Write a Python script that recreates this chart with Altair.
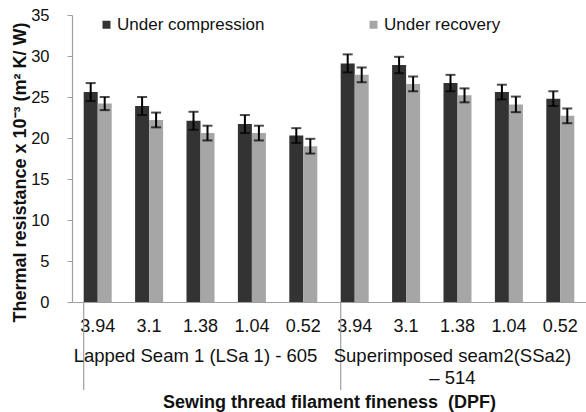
import altair as alt
import pandas as pd

# ---- data ----
seams = ["LSa1"] * 5 + ["SSa2"] * 5
dpf = ["3.94", "3.1", "1.38", "1.04", "0.52", "3.94", "3.1", "1.38", "1.04", "0.52"]
compression = [25.6, 23.9, 22.1, 21.7, 20.3, 29.1, 28.9, 26.7, 25.6, 24.8]
recovery = [24.2, 22.2, 20.6, 20.6, 19.0, 27.7, 26.6, 25.2, 24.1, 22.7]
comp_err = [1.1, 1.1, 1.1, 1.1, 0.9, 1.1, 1.0, 1.0, 0.9, 0.9]
rec_err = [0.8, 0.9, 0.9, 0.9, 0.9, 0.9, 0.9, 0.85, 0.95, 0.9]
series_names = ["Under compression", "Under recovery"]
group_labels = ["Lapped Seam 1 (LSa 1) - 605", "Superimposed seam2(SSa2)\n\u2013 514"]
group_mid_keys = ["LSa1|1.38", "SSa2|1.38"]
separator_keys = ["LSa1|3.94", "SSa2|3.94"]

keys = [f"{s}|{d}" for s, d in zip(seams, dpf)]
rows = []
for i, k in enumerate(keys):
    for name, vals, errs in ((series_names[0], compression, comp_err),
                             (series_names[1], recovery, rec_err)):
        rows.append({"key": k, "series": name, "value": vals[i],
                     "lo": vals[i] - errs[i], "hi": vals[i] + errs[i]})
df = pd.DataFrame(rows)

FONT = "Liberation Sans"
W, H = 514, 287

xscale = alt.Scale(paddingInner=0.455, paddingOuter=0.2275)
xaxis = alt.Axis(
    title="Sewing thread filament fineness\u00a0\u00a0(DPF)",
    labelExpr="split(datum.value, '|')[1]",
    labelAngle=0, labelFontSize=18, labelFont=FONT, labelColor="#111111",
    labelBaseline="alphabetic", labelPadding=29, ticks=False, tickSize=0,
    domainColor="#a0a0a0", domainWidth=1.2,
    titleFont=FONT, titleFontSize=18, titleFontWeight="bold", titleColor="#111111",
    titleBaseline="alphabetic", titleY=105, titleX=W / 2,
)
X = alt.X("key:N", sort=keys, scale=xscale, axis=xaxis)
XO = alt.XOffset("series:N", sort=series_names,
                 scale=alt.Scale(paddingInner=0, paddingOuter=0))

yaxis = alt.Axis(
    title="Thermal resistance x 10\u207b\u00b3 (m\u00b2 K/ W)",
    values=[0, 5, 10, 15, 20, 25, 30, 35], grid=False,
    labelFontSize=16.5, labelFont=FONT, labelColor="#111111", labelPadding=18,
    tickSize=5, tickColor="#a0a0a0", domainColor="#a0a0a0", domainWidth=1.2,
    titleFont=FONT, titleFontSize=18, titleFontWeight="bold", titleColor="#111111",
    titleBaseline="alphabetic", titleX=-47, titleY=157,
)
Y = alt.Y("value:Q", scale=alt.Scale(domain=[0, 35], nice=False), axis=yaxis)

color = alt.Color(
    "series:N", sort=series_names,
    scale=alt.Scale(domain=series_names, range=["#333333", "#a6a6a6"]),
    legend=alt.Legend(
        title=None, orient="none", legendX=26, legendY=1, direction="horizontal",
        columns=2, columnPadding=100, symbolType="square", symbolSize=64,
        symbolStrokeWidth=0, labelFontSize=17, labelFont=FONT, labelColor="#111111",
        labelOffset=2, padding=0,
    ),
)

base = alt.Chart(df)
bars = base.mark_bar().encode(x=X, xOffset=XO, y=Y, color=color)
err_rule = base.mark_rule(color="black", strokeWidth=2).encode(
    x=X, xOffset=XO, y=alt.Y("lo:Q"), y2="hi:Q")
cap_lo = base.mark_tick(color="black", size=10, thickness=2).encode(
    x=X, xOffset=XO, y=alt.Y("lo:Q"))
cap_hi = base.mark_tick(color="black", size=10, thickness=2).encode(
    x=X, xOffset=XO, y=alt.Y("hi:Q"))

sep_df = pd.DataFrame({"key": separator_keys})
seps = alt.Chart(sep_df).mark_rule(color="#a0a0a0", strokeWidth=1.2).encode(
    x=alt.X("key:N", sort=keys, bandPosition=0),
    y=alt.value(H), y2=alt.value(H + 88))

grp_df = pd.DataFrame({"key": group_mid_keys, "label": group_labels})
grp = alt.Chart(grp_df).mark_text(
    font=FONT, fontSize=18.5, color="#111111", align="center", baseline="alphabetic",
    lineBreak="\n", lineHeight=22, dx=-5,
).encode(x=alt.X("key:N", sort=keys), y=alt.value(347), text="label:N")

chart = alt.layer(bars, err_rule, cap_lo, cap_hi, seps, grp).properties(
    width=W, height=H,
    autosize=alt.AutoSizeParams(type="none"),
    padding={"left": 72, "top": 15, "right": 0, "bottom": 110},
    background="white",
).configure_view(stroke=None)

chart.save("out.html", embed_options={"renderer": "svg", "actions": False})
